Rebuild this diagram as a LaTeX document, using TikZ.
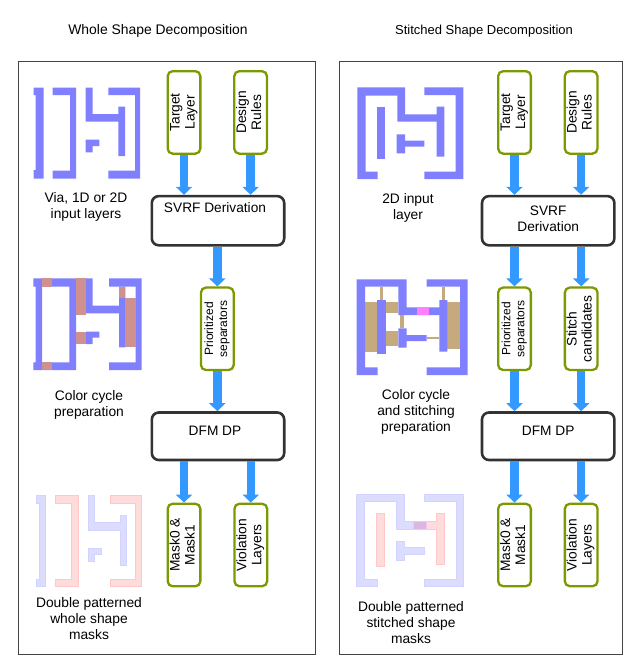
\documentclass[tikz,border=0pt]{standalone}
\usepackage{fontspec}
\setmainfont{Liberation Sans}
\usetikzlibrary{positioning,arrows.meta}

\definecolor{framegray}{HTML}{444444}
\definecolor{inputgreen}{HTML}{7A9A01}
\definecolor{stepdark}{HTML}{333333}
\definecolor{flowblue}{HTML}{3399FF}
\definecolor{metalblue}{HTML}{8080FF}
\definecolor{cyclered}{HTML}{CF9090}
\definecolor{stitchtan}{HTML}{C4AA7C}
\definecolor{stitchpink}{HTML}{FF80FF}
\definecolor{maskblue}{HTML}{DCDCFF}
\definecolor{maskred}{HTML}{FFDCDC}
\definecolor{maskboth}{HTML}{D8B8E0}

% Vertical two line text for the narrow boxes
\newcommand{\uptext}[2]{\rotatebox{90}{\begin{tabular}{@{}c@{}}#1\\#2\end{tabular}}}
% Step box text that sits off the middle of its box
\newcommand{\lifted}[2]{\raisebox{#1}[0pt][0pt]{#2}}

\tikzset{
    inputbox/.style={draw=inputgreen, line width=2.3pt, fill=white, rounded corners=5pt, minimum width=32.7pt, minimum height=82.5pt, inner sep=0pt, font=\fontsize{13.8}{15}\selectfont},
    smalltext/.style={font=\fontsize{12}{14}\selectfont},
    stepbox/.style={draw=stepdark, line width=2.6pt, fill=white, rounded corners=7pt, minimum width=132.4pt, minimum height=49.2pt, inner sep=0pt, font=\fontsize{13.7}{16}\selectfont},
    dpbox/.style={stepbox, minimum height=47.5pt},
    flowarrow/.style={flowblue, line width=8.5pt, -{Triangle[width=16pt,length=8pt]}},
    caption/.style={align=center, font=\fontsize{13.8}{16}\selectfont},
    metal/.style={fill=metalblue},
    oddcolor/.style={fill=cyclered},
    tanfill/.style={fill=stitchtan},
    maskzero/.style={fill=maskblue, draw=metalblue!35, line width=.5pt},
    maskone/.style={fill=maskred, draw=red!22, line width=.5pt},
}

\begin{document}
\begin{tikzpicture}[x=1pt, y=-1pt]
\useasboundingbox (0,0) rectangle (644,659);

% Titles
\node[font=\fontsize{13.9}{16}\selectfont] (wholetitle) at (158,31) {Whole Shape Decomposition};
\node[font=\fontsize{13}{16}\selectfont] (stitchtitle) at (484,31) {Stitched Shape Decomposition};

% Panels
\draw[framegray, line width=.8pt] (18.5,61) rectangle (315,654);
\draw[framegray, line width=.8pt] (339.5,61) rectangle (622,654);

% Left panel flow
\node[inputbox] (targetA) at (184,112.4) {\uptext{Target}{Layer}};
\node[inputbox, right=31.6pt of targetA] (rulesA) {\uptext{Design}{Rules}};
\node[stepbox] (svrfA) at (218,220.7) {\lifted{8pt}{\hspace*{-6pt}SVRF Derivation}};
\node[inputbox, smalltext, below=39.8pt of svrfA, xshift=-0.7pt] (sepA) {\uptext{Prioritized}{separators}};
\node[dpbox, below=40pt of sepA, xshift=0.7pt] (dpA) {\lifted{0.5pt}{\hspace*{-6pt}DFM DP}};
\node[inputbox, below=41.3pt of dpA, xshift=-34pt] (maskA) {\uptext{Mask0 \&}{Mask1}};
\node[inputbox, below=41.3pt of dpA, xshift=32.8pt] (violA) {\uptext{Violation}{Layers}};

\draw[flowarrow] (targetA) -- (targetA |- svrfA.north);
\draw[flowarrow] (rulesA) -- (rulesA |- svrfA.north);
\draw[flowarrow] (sepA |- svrfA.south) -- (sepA);
\draw[flowarrow] (sepA) -- (sepA |- dpA.north);
\draw[flowarrow] (maskA |- dpA.south) -- (maskA);
\draw[flowarrow] (violA |- dpA.south) -- (violA);

% Right panel flow
\node[inputbox] (targetB) at (514.5,112.4) {\uptext{Target}{Layer}};
\node[inputbox, right=31.6pt of targetB] (rulesB) {\uptext{Design}{Rules}};
\node[stepbox] (svrfB) at (548.2,220.7) {\begin{tabular}{@{}c@{}}SVRF\\Derivation\end{tabular}};
\node[inputbox, smalltext, below=39.8pt of svrfB, xshift=-33.7pt] (sepB) {\uptext{Prioritized}{separators}};
\node[inputbox, below=39.8pt of svrfB, xshift=33pt] (stitchB) {\uptext{Stitch}{candidates}};
\node[dpbox, below=40pt of sepB, xshift=33.7pt] (dpB) {\lifted{0.5pt}{DFM DP}};
\node[inputbox, below=41.3pt of dpB, xshift=-33.7pt] (maskB) {\uptext{Mask0 \&}{Mask1}};
\node[inputbox, below=41.3pt of dpB, xshift=33pt] (violB) {\uptext{Violation}{Layers}};

\draw[flowarrow] (targetB) -- (targetB |- svrfB.north);
\draw[flowarrow] (rulesB) -- (rulesB |- svrfB.north);
\draw[flowarrow] (sepB |- svrfB.south) -- (sepB);
\draw[flowarrow] (stitchB |- svrfB.south) -- (stitchB);
\draw[flowarrow] (sepB) -- (sepB |- dpB.north);
\draw[flowarrow] (stitchB) -- (stitchB |- dpB.north);
\draw[flowarrow] (maskB |- dpB.south) -- (maskB);
\draw[flowarrow] (violB |- dpB.south) -- (violB);

% Captions
\node[caption] (capinputA) at (86,207) {Via, 1D or 2D\\input layers};
\node[caption] (capcycleA) at (89,405) {Color cycle\\preparation};
\node[caption] (capmaskA) at (89,619) {Double patterned\\whole shape\\masks};
\node[caption] (capinputB) at (408,208) {2D input\\layer};
\node[caption] (capcycleB) at (416,412) {Color cycle\\and stitching\\preparation};
\node[caption] (capmaskB) at (411,623) {Double patterned\\stitched shape\\masks};

% Whole shape input layer
\fill[metal] (33.5,87.5) -- (43.5,87.5) -- (43.5,178.5) -- (33.5,178.5) -- (33.5,170) -- (35.5,170) -- (35.5,95) -- (33.5,95) -- cycle;
\fill[metal] (52.7,87.5) -- (76,87.5) -- (76,178.5) -- (52.7,178.5) -- (52.7,170.7) -- (70,170.7) -- (70,95) -- (52.7,95) -- cycle;
\fill[metal] (85.7,87.5) -- (92.7,87.5) -- (92.7,114) -- (118.3,114) -- (118.3,106.7) -- (125,106.7) -- (125,156) -- (118.3,156) -- (118.3,121.7) -- (85.7,121.7) -- cycle;
\fill[metal] (85.7,139.7) -- (99.3,139.7) -- (99.3,146) -- (92.7,146) -- (92.7,152.3) -- (85.7,152.3) -- cycle;
\fill[metal] (108.3,87.5) -- (140,87.5) -- (140,178.5) -- (108.3,178.5) -- (108.3,170.7) -- (135,170.7) -- (135,95) -- (108.3,95) -- cycle;

% Whole shape color cycle
\fill[metal, even odd rule] (33.3,278.3) -- (76,278.3) -- (76,370) -- (33.3,370) -- (33.3,362.3) -- (35.7,362.3) -- (35.7,286.7) -- (33.3,286.7) -- cycle (42,286.7) rectangle (69.3,362.3);
\fill[metal] (86,278.3) -- (92.7,278.3) -- (92.7,305.7) -- (119,305.7) -- (119,286.7) -- (125.3,286.7) -- (125.3,347.3) -- (119,347.3) -- (119,313.3) -- (86,313.3) -- cycle;
\fill[metal] (86,331.7) -- (99.3,331.7) -- (99.3,337.7) -- (92.7,337.7) -- (92.7,344) -- (86,344) -- cycle;
\fill[metal] (109,278.3) -- (141.7,278.3) -- (141.7,370) -- (109,370) -- (109,362.3) -- (135.7,362.3) -- (135.7,286.7) -- (109,286.7) -- cycle;
\fill[oddcolor] (42,278.3) rectangle (52.3,286.7);
\fill[oddcolor] (42,362.3) rectangle (52.3,370);
\fill[oddcolor] (76,278.3) rectangle (86,315);
\fill[oddcolor] (76,331.7) rectangle (86,344);
\fill[oddcolor] (119,286.7) rectangle (125.3,298.3);
\fill[oddcolor] (125.3,298.3) rectangle (135.7,347.3);

% Whole shape masks
\filldraw[maskzero] (36.7,495.7) -- (45.7,495.7) -- (45.7,586.7) -- (36.7,586.7) -- (36.7,579) -- (39,579) -- (39,503.3) -- (36.7,503.3) -- cycle;
\filldraw[maskone] (55.7,495.7) -- (78.3,495.7) -- (78.3,586.7) -- (55.7,586.7) -- (55.7,579) -- (71.7,579) -- (71.7,503.3) -- (55.7,503.3) -- cycle;
\filldraw[maskzero] (88,495.7) -- (94,495.7) -- (94,522.3) -- (120,522.3) -- (120,515) -- (126,515) -- (126,565) -- (120,565) -- (120,530) -- (88,530) -- cycle;
\filldraw[maskzero] (88,548.3) -- (101,548.3) -- (101,554.3) -- (94,554.3) -- (94,561) -- (88,561) -- cycle;
\filldraw[maskone] (110,495.7) -- (141.7,495.7) -- (141.7,586.7) -- (110,586.7) -- (110,579) -- (135.7,579) -- (135.7,503.3) -- (110,503.3) -- cycle;

% Stitched shape input layer
\fill[metal] (357.3,87.3) -- (405,87.3) -- (405,114.3) -- (436.7,114.3) -- (436.7,106.7) -- (444.3,106.7) -- (444.3,156.7) -- (436.7,156.7) -- (436.7,121.7) -- (397.3,121.7) -- (397.3,95.7) -- (365.7,95.7) -- (365.7,171.7) -- (377.7,171.7) -- (377.7,179) -- (357.3,179) -- cycle;
\fill[metal] (377.3,106.7) rectangle (385,159);
\fill[metal] (396.7,134.3) -- (405,134.3) -- (405,140.7) -- (424.3,140.7) -- (424.3,146.7) -- (405,146.7) -- (405,153.3) -- (396.7,153.3) -- cycle;
\fill[metal] (424.3,87.3) -- (463.3,87.3) -- (463.3,179) -- (424.3,179) -- (424.3,171.7) -- (455.7,171.7) -- (455.7,95) -- (424.3,95) -- cycle;

% Stitched shape color cycle
\fill[tanfill] (379.7,286.7) rectangle (383.3,300);
\fill[tanfill] (365,302.3) rectangle (377.3,351.7);
\fill[tanfill] (385.7,302.3) rectangle (398.3,313.3);
\fill[tanfill] (400.3,315) rectangle (404,328.3);
\fill[tanfill] (385.7,331) rectangle (398.3,345.7);
\fill[tanfill] (426.7,336.7) rectangle (439.3,339);
\fill[tanfill] (441.7,286.7) rectangle (445.3,300);
\fill[tanfill] (447.3,302.3) rectangle (460,349.3);
\fill[metal] (356.7,279.3) -- (406.7,279.3) -- (406.7,307.3) -- (439.3,307.3) -- (439.3,300) -- (447.3,300) -- (447.3,351.7) -- (439.3,351.7) -- (439.3,315) -- (398.3,315) -- (398.3,286.7) -- (365,286.7) -- (365,367.3) -- (377.7,367.3) -- (377.7,375) -- (356.7,375) -- cycle;
\fill[metal] (377.3,300) rectangle (385.7,354);
\fill[metal] (398.3,328.3) -- (406.7,328.3) -- (406.7,335) -- (426.7,335) -- (426.7,341) -- (406.7,341) -- (406.7,347.7) -- (398.3,347.7) -- cycle;
\fill[metal] (426.7,279.3) -- (467.7,279.3) -- (467.7,375) -- (426.7,375) -- (426.7,367.3) -- (460,367.3) -- (460,286.7) -- (426.7,286.7) -- cycle;
\fill[stitchpink] (416.7,307.3) rectangle (429.3,315);

% Stitched shape masks
\filldraw[maskone] (376.7,513.7) rectangle (384.3,566.7);
\filldraw[maskone] (413.3,521.7) -- (436.7,521.7) -- (436.7,513.7) -- (444,513.7) -- (444,564.3) -- (436.7,564.3) -- (436.7,529.3) -- (413.3,529.3) -- cycle;
\filldraw[maskzero] (356,494) -- (404.3,494) -- (404.3,521.7) -- (426.7,521.7) -- (426.7,529.3) -- (396.7,529.3) -- (396.7,501) -- (364,501) -- (364,579) -- (377,579) -- (377,586.7) -- (356,586.7) -- cycle;
\filldraw[maskzero] (396.7,541) -- (404.3,541) -- (404.3,547.7) -- (424.3,547.7) -- (424.3,554.3) -- (404.3,554.3) -- (404.3,560.3) -- (396.7,560.3) -- cycle;
\filldraw[maskzero] (424,494) -- (463.3,494) -- (463.3,586.7) -- (424,586.7) -- (424,579) -- (456,579) -- (456,501) -- (424,501) -- cycle;
\filldraw[fill=maskboth, draw=stitchpink!50, line width=.5pt] (413.3,521.7) rectangle (426.7,529.3);

\end{tikzpicture}
\end{document}
